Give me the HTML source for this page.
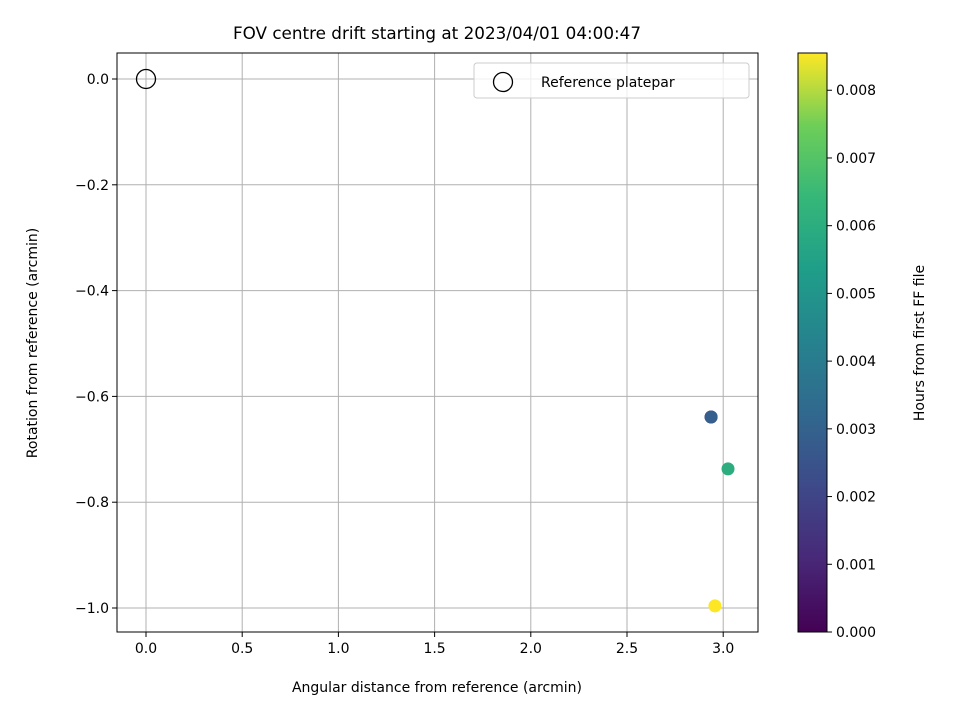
<!DOCTYPE html>
<html><head><meta charset="utf-8"><style>
body{margin:0;background:#fff;font-family:"DejaVu Sans","Liberation Sans",sans-serif}
svg text{font-family:"DejaVu Sans","Liberation Sans",sans-serif;fill:#000}
</style></head><body>
<svg id="c" width="960" height="720" xmlns="http://www.w3.org/2000/svg">
<defs><linearGradient id="vir" x1="0" y1="1" x2="0" y2="0">
<stop offset="0" stop-color="#440154"/><stop offset="0.125" stop-color="#482878"/><stop offset="0.25" stop-color="#3e4989"/><stop offset="0.375" stop-color="#31688e"/><stop offset="0.5" stop-color="#26828e"/><stop offset="0.625" stop-color="#1f9e89"/><stop offset="0.75" stop-color="#35b779"/><stop offset="0.875" stop-color="#6ece58"/><stop offset="1" stop-color="#fde725"/>
</linearGradient></defs>
<g id="grid"></g><g id="axes"></g><g id="marks"></g><g id="cbar"></g>
</svg>
<script>
const xs=[2.937,2.937,3.025,2.957];
const ys=[-0.639,-0.639,-0.737,-0.996];
const hours=[0.0,0.0029,0.0060,0.00855];
const xTicks=[0,0.5,1,1.5,2,2.5,3];
const yTicks=[0,-0.2,-0.4,-0.6,-0.8,-1.0];
const cTicks=[0,0.001,0.002,0.003,0.004,0.005,0.006,0.007,0.008];
const cMax=0.00855;
const L=117,R=758,T=53,B=632;
const X=v=>146+v*192.4, Y=v=>79-v*529;
const CB=v=>632-v/cMax*579;
const NS="http://www.w3.org/2000/svg";
function mk(p,t,a){const e=document.createElementNS(NS,t);for(const k in a){if(k==='fs')e.setAttribute('style','font-size:'+a[k]+'px');else e.setAttribute(k,a[k]);}p.appendChild(e);return e;}
const vir=["#440154","#482878","#3e4989","#31688e","#26828e","#1f9e89","#35b779","#6ece58","#fde725"];
function cmap(v){let t=Math.max(0,Math.min(1,v/cMax))*8,i=Math.min(7,Math.floor(t)),f=t-i;
const c=s=>[1,3,5].map(j=>parseInt(s.substr(j,2),16));const A=c(vir[i]),Bc=c(vir[i+1]);
return "rgb("+A.map((x,k)=>Math.round(x+(Bc[k]-x)*f)).join(",")+")";}
const g=document.getElementById('grid'),ax=document.getElementById('axes'),m=document.getElementById('marks'),cb=document.getElementById('cbar');
const fmt=v=>(v<0?"\u2212":"")+Math.abs(v).toFixed(1);
xTicks.forEach(v=>{const x=X(v);
let l=mk(g,'line',{x1:x,x2:x,y1:T,y2:B,stroke:'#b0b0b0','stroke-width':1});

mk(ax,'line',{x1:x,x2:x,y1:B,y2:B+5,stroke:'#000'});
let t=mk(ax,'text',{x:x,y:B+21,'text-anchor':'middle',fs:14});t.textContent=fmt(v);
});
yTicks.forEach(v=>{const y=Y(v);
let l=mk(g,'line',{x1:L,x2:R,y1:y,y2:y,stroke:'#b0b0b0','stroke-width':1});

mk(ax,'line',{x1:L-5,x2:L,y1:y,y2:y,stroke:'#000'});
let t=mk(ax,'text',{x:L-8,y:y+5,'text-anchor':'end',fs:14});t.textContent=fmt(v);
});
let fr=mk(ax,'rect',{x:L,y:T,width:R-L,height:B-T,fill:'none',stroke:'#000','stroke-width':1});

let ti=mk(ax,'text',{x:437,y:39,'text-anchor':'middle',fs:16.8});ti.textContent="FOV centre drift starting at 2023/04/01 04:00:47";

let xl=mk(ax,'text',{x:437,y:692,'text-anchor':'middle',fs:14});xl.textContent="Angular distance from reference (arcmin)";

let yl=mk(ax,'text',{x:0,y:0,'text-anchor':'middle',fs:14,transform:'translate(37,343) rotate(-90)'});yl.textContent="Rotation from reference (arcmin)";

let ref=mk(m,'circle',{cx:X(0),cy:Y(0),r:9.5,fill:'none',stroke:'#000','stroke-width':1.3});

xs.forEach((v,i)=>{let c=mk(m,'circle',{cx:X(v),cy:Y(ys[i]),r:6.5,fill:cmap(hours[i])});
});
let lg=mk(ax,'g',{});
mk(lg,'rect',{x:474,y:63,width:275,height:35,rx:3,fill:'#fff','fill-opacity':0.8,stroke:'#ccc'});
mk(lg,'circle',{cx:503,cy:82,r:9.5,fill:'none',stroke:'#000','stroke-width':1.3});
let lt=mk(lg,'text',{x:541,y:87,fs:14});lt.textContent="Reference platepar";

let cr=mk(cb,'rect',{x:798,y:T,width:29,height:B-T,fill:'url(#vir)',stroke:'#000'});

cTicks.forEach(v=>{const y=CB(v);mk(cb,'line',{x1:827,x2:832,y1:y,y2:y,stroke:'#000'});
let t=mk(cb,'text',{x:836,y:y+5,fs:14});t.textContent=v.toFixed(3);
});
let cl=mk(cb,'text',{x:0,y:0,'text-anchor':'middle',fs:14,transform:'translate(924,343) rotate(-90)'});cl.textContent="Hours from first FF file";

</script>
</body></html>
